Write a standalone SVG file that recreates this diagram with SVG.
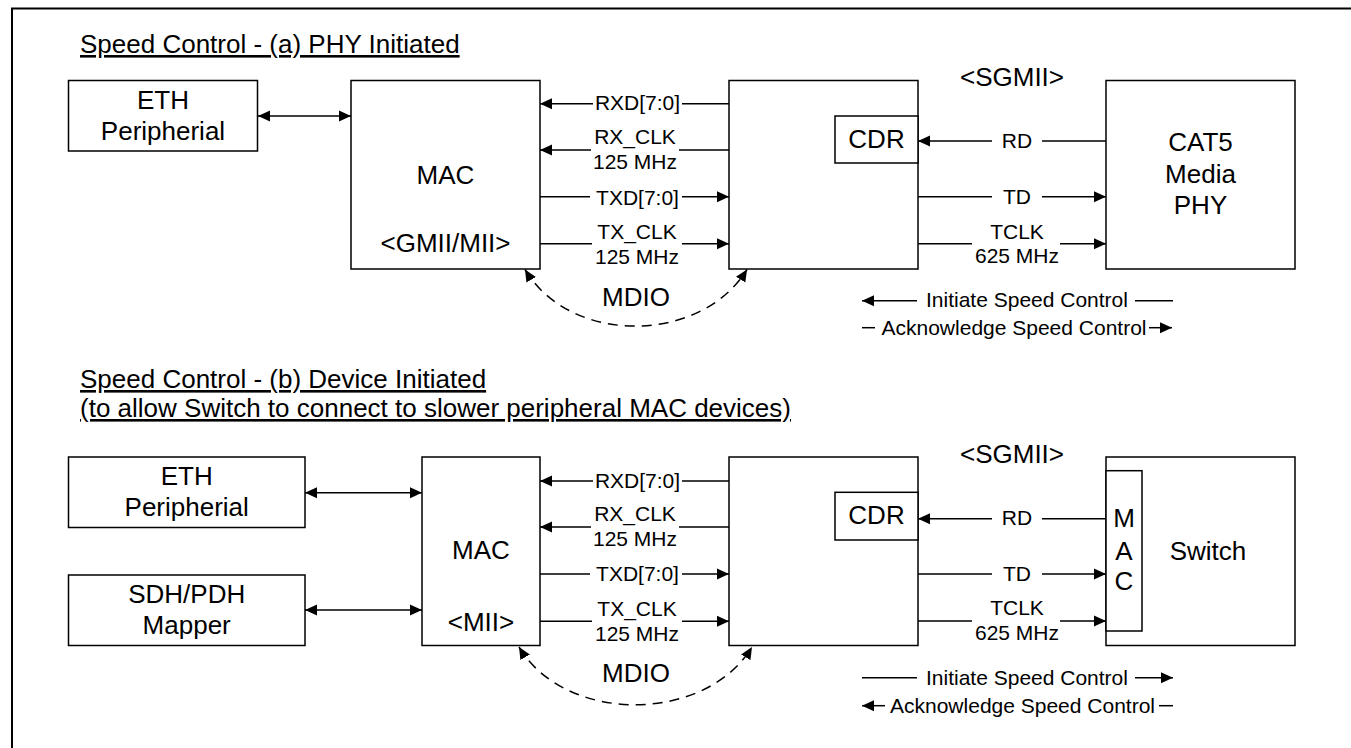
<svg xmlns="http://www.w3.org/2000/svg" width="1351" height="748" viewBox="0 0 1351 748">
<style>
text{font-family:"Liberation Sans",Arial,sans-serif;fill:#000}
.t26{font-size:26px;text-anchor:middle}
.t21{font-size:21px;text-anchor:middle}
.lg{font-size:21px;text-anchor:start}
.ttl{font-size:26px;text-anchor:start;text-decoration:underline}
.box{fill:#fff;stroke:#000;stroke-width:1.5}
.ln{fill:none;stroke:#000;stroke-width:1.5}
.ae{marker-end:url(#arr)}
.as{marker-start:url(#arr)}
.dash{stroke-dasharray:10 7}
</style>
<defs>
<marker id="arr" markerUnits="userSpaceOnUse" markerWidth="13" markerHeight="12" refX="12" refY="5.5" orient="auto-start-reverse" viewBox="0 0 13 11">
<path d="M0,0 L12,5.5 L0,11 z" fill="#000" stroke="none"/>
</marker>
</defs>
<rect width="1351" height="748" fill="#fff"/>
<path class="ln" d="M12,748 V8.5 H1351" style="stroke-width:2"/>

<!-- Section (a) -->
<text class="ttl" x="80" y="53">Speed Control - (a) PHY Initiated</text>

<g id="eth1"><rect class="box" x="68.5" y="80.5" width="189" height="70.5"/>
<text class="t26" x="163" y="108.5">ETH</text><text class="t26" x="163" y="139.5">Peripherial</text></g>

<g id="mac1"><rect class="box" x="351" y="80.5" width="189" height="188.5"/>
<text class="t26" x="445.5" y="184">MAC</text><text class="t26" x="445.5" y="252">&lt;GMII/MII&gt;</text></g>

<g id="sgmii1"><rect class="box" x="729" y="80.5" width="189" height="188.5"/></g>
<g id="cdr1"><rect class="box" x="835" y="116" width="83" height="47"/>
<text class="t26" x="876.5" y="148">CDR</text></g>
<g id="sgmiilabel1"><text class="t26" x="1012" y="86">&lt;SGMII&gt;</text></g>

<g id="cat5"><rect class="box" x="1106" y="80.5" width="189" height="188.5"/>
<text class="t26" x="1200.5" y="151">CAT5</text><text class="t26" x="1200.5" y="182.5">Media</text><text class="t26" x="1200.5" y="213.5">PHY</text></g>

<g id="connectors1">
<path class="ln ae as" d="M258,116 H351"/>
<path class="ln ae" d="M729,103.7 H682 M593,103.7 H540"/>
<path class="ln ae" d="M729,150 H679 M591,150 H540"/>
<path class="ln ae" d="M540,196.7 H590 M682,196.7 H729"/>
<path class="ln ae" d="M540,243.7 H592 M682,243.7 H729"/>
<path class="ln ae" d="M1106,141 H1042 M992,141 H918"/>
<path class="ln ae" d="M918,196.7 H992 M1042,196.7 H1106"/>
<path class="ln ae" d="M918,243.7 H972 M1060,243.7 H1106"/>
<path class="ln dash ae as" d="M525,269.5 C570,345 700,345 747,269.5"/>
<text class="t21" x="637.5" y="110">RXD[7:0]</text>
<text class="t21" x="635" y="144">RX_CLK</text><text class="t21" x="635" y="169">125 MHz</text>
<text class="t21" x="637.5" y="205">TXD[7:0]</text>
<text class="t21" x="637" y="238.5">TX_CLK</text><text class="t21" x="637" y="263.5">125 MHz</text>
<text class="t21" x="1017" y="147.5">RD</text>
<text class="t21" x="1017" y="203.5">TD</text>
<text class="t21" x="1017" y="238.5">TCLK</text><text class="t21" x="1017" y="262.5">625 MHz</text>
<text class="t26" x="636" y="306">MDIO</text>
</g>

<g id="legend1">
<path class="ln ae" d="M917,300.7 H862"/>
<path class="ln" d="M1135,300.7 H1173"/>
<text class="lg" x="926" y="307">Initiate Speed Control</text>
<path class="ln" d="M862,327.7 H875"/>
<path class="ln ae" d="M1149,327.7 H1172"/>
<text class="lg" x="881.5" y="335">Acknowledge Speed Control</text>
</g>

<!-- Section (b) -->
<text class="ttl" x="80" y="388">Speed Control - (b) Device Initiated</text>
<text class="ttl" x="80" y="417">(to allow Switch to connect to slower peripheral MAC devices)</text>

<g id="eth2"><rect class="box" x="68.5" y="457" width="236.5" height="70.5"/>
<text class="t26" x="186.7" y="485">ETH</text><text class="t26" x="186.7" y="516">Peripherial</text></g>

<g id="sdh"><rect class="box" x="68.5" y="575" width="236.5" height="70.5"/>
<text class="t26" x="186.7" y="603">SDH/PDH</text><text class="t26" x="186.7" y="633.5">Mapper</text></g>

<g id="mac2"><rect class="box" x="422" y="457" width="118" height="188.5"/>
<text class="t26" x="481" y="559">MAC</text><text class="t26" x="481" y="631">&lt;MII&gt;</text></g>

<g id="sgmii2"><rect class="box" x="729" y="457" width="189" height="188.5"/></g>
<g id="cdr2"><rect class="box" x="835" y="492.3" width="83" height="47.7"/>
<text class="t26" x="876.5" y="524">CDR</text></g>
<g id="sgmiilabel2"><text class="t26" x="1012" y="463">&lt;SGMII&gt;</text></g>

<g id="switch"><rect class="box" x="1106" y="457" width="189" height="188.5"/>
<text class="t26" x="1208" y="560">Switch</text></g>
<g id="switchmac"><rect class="box" x="1106" y="470.7" width="36" height="160.3"/>
<text class="t26" x="1124" y="527">M</text><text class="t26" x="1124" y="559.5">A</text><text class="t26" x="1124" y="590">C</text></g>

<g id="connectors2">
<path class="ln ae as" d="M305,492.7 H422"/>
<path class="ln ae as" d="M305,610 H422"/>
<path class="ln ae" d="M729,481 H682 M593,481 H540"/>
<path class="ln ae" d="M729,527 H679 M591,527 H540"/>
<path class="ln ae" d="M540,574 H590 M682,574 H729"/>
<path class="ln ae" d="M540,621.3 H592 M682,621.3 H729"/>
<path class="ln ae" d="M1106,518.7 H1042 M992,518.7 H918"/>
<path class="ln ae" d="M918,574 H992 M1042,574 H1106"/>
<path class="ln ae" d="M918,621 H972 M1060,621 H1106"/>
<path class="ln dash ae as" d="M519,647 C565,724 705,724 752,647"/>
<text class="t21" x="637.5" y="487.5">RXD[7:0]</text>
<text class="t21" x="635" y="521">RX_CLK</text><text class="t21" x="635" y="546">125 MHz</text>
<text class="t21" x="637.5" y="581">TXD[7:0]</text>
<text class="t21" x="637" y="615.5">TX_CLK</text><text class="t21" x="637" y="640.5">125 MHz</text>
<text class="t21" x="1017" y="525">RD</text>
<text class="t21" x="1017" y="580.5">TD</text>
<text class="t21" x="1017" y="615">TCLK</text><text class="t21" x="1017" y="640">625 MHz</text>
<text class="t26" x="636" y="682">MDIO</text>
</g>

<g id="legend2">
<path class="ln" d="M862,677.7 H917"/>
<path class="ln ae" d="M1135,677.7 H1173"/>
<text class="lg" x="926" y="684.5">Initiate Speed Control</text>
<path class="ln ae" d="M885,705.7 H862"/>
<path class="ln" d="M1159,705.7 H1173"/>
<text class="lg" x="890" y="712.5">Acknowledge Speed Control</text>
</g>
</svg>
